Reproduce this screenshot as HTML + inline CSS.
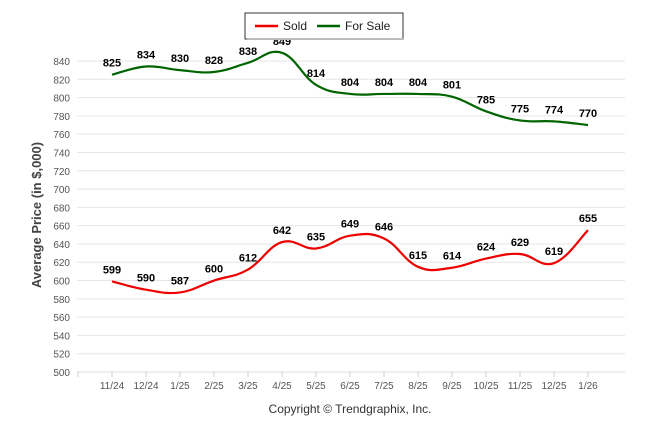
<!DOCTYPE html>
<html><head><meta charset="utf-8"><style>
body{margin:0;background:#fff;font-family:"Liberation Sans",sans-serif;}
svg text{font-family:"Liberation Sans",sans-serif;}
</style></head><body>
<svg width="646" height="434" xmlns="http://www.w3.org/2000/svg">
<g id="grid"></g>
<g id="series"></g>
<g id="labels"></g>
<text transform="translate(41,215) rotate(-90)" text-anchor="middle" font-size="13" font-weight="bold" fill="#444">Average Price (in $,000)</text>
<text x="350" y="413" text-anchor="middle" font-size="12" fill="#333">Copyright © Trendgraphix, Inc.</text>
<g>
<rect x="245" y="13" width="158" height="26" fill="#fff" stroke="#333" stroke-width="1"/>
<rect x="247" y="38" width="157" height="2" fill="#bbb"/>
<line x1="255" y1="26" x2="278" y2="26" stroke="#e00" stroke-width="2.5"/>
<text x="283" y="30" font-size="12" fill="#222">Sold</text>
<line x1="317" y1="26" x2="340" y2="26" stroke="#006400" stroke-width="2.5"/>
<text x="345" y="30" font-size="12" fill="#222">For Sale</text>
</g>
</svg>
<script>
const categories=["11/24","12/24","1/25","2/25","3/25","4/25","5/25","6/25","7/25","8/25","9/25","10/25","11/25","12/25","1/26"];
const sold=[599,590,587,600,612,642,635,649,646,615,614,624,629,619,655];
const forSale=[825,834,830,828,838,849,814,804,804,804,801,785,775,774,770];
const yTicks=[500,520,540,560,580,600,620,640,660,680,700,720,740,760,780,800,820,840];
const NS="http://www.w3.org/2000/svg";
function y(v){return 372-(v-500)*0.9147;}
function x(i){return 112+i*34;}
function mk(t,a,p){const e=document.createElementNS(NS,t);for(const k in a)e.setAttribute(k,a[k]);p.appendChild(e);return e;}
const grid=document.getElementById('grid'),ser=document.getElementById('series'),lab=document.getElementById('labels');
yTicks.forEach(v=>{
 const l=mk('line',{x1:77,x2:625,y1:y(v),y2:y(v),stroke:'#e6e6e6','stroke-width':1},grid);
 
 
 const t=mk('text',{x:70,y:y(v)+4,'text-anchor':'end','font-size':10,fill:'#555'},grid);t.textContent=v;
 
 
});
mk('line',{x1:77,x2:625,y1:372,y2:372,stroke:'#ddd'},grid);
for(let i=-1;i<categories.length;i++){mk('line',{x1:x(i),x2:x(i),y1:372,y2:377,stroke:'#ccc'},grid);}
categories.forEach((c,i)=>{const t=mk('text',{x:x(i),y:389,'text-anchor':'middle','font-size':10,fill:'#555'},grid);t.textContent=c;
 
 });
function path(vals){
 const p=vals.map((v,i)=>[x(i),y(v)]);let d=`M${p[0][0]},${p[0][1]}`;
 for(let i=0;i<p.length-1;i++){const p0=p[i-1]||p[i],p1=p[i],p2=p[i+1],p3=p[i+2]||p2;const k=0.2;
  d+=` C${p1[0]+(p2[0]-p0[0])*k},${p1[1]+(p2[1]-p0[1])*k} ${p2[0]-(p3[0]-p1[0])*k},${p2[1]-(p3[1]-p1[1])*k} ${p2[0]},${p2[1]}`;}
 return d;}
[[sold,'#e00','sold-line'],[forSale,'#006400','for-sale-line']].forEach(([vals,col,name])=>{
 const pa=mk('path',{d:path(vals),fill:'none',stroke:col,'stroke-width':2.2},ser);
 
 
 vals.forEach((v,i)=>{const t=mk('text',{x:x(i),y:y(v)-8,'text-anchor':'middle','font-size':11,'font-weight':'bold',fill:'#000'},lab);t.textContent=v;
  
  });
});
</script>
</body></html>
